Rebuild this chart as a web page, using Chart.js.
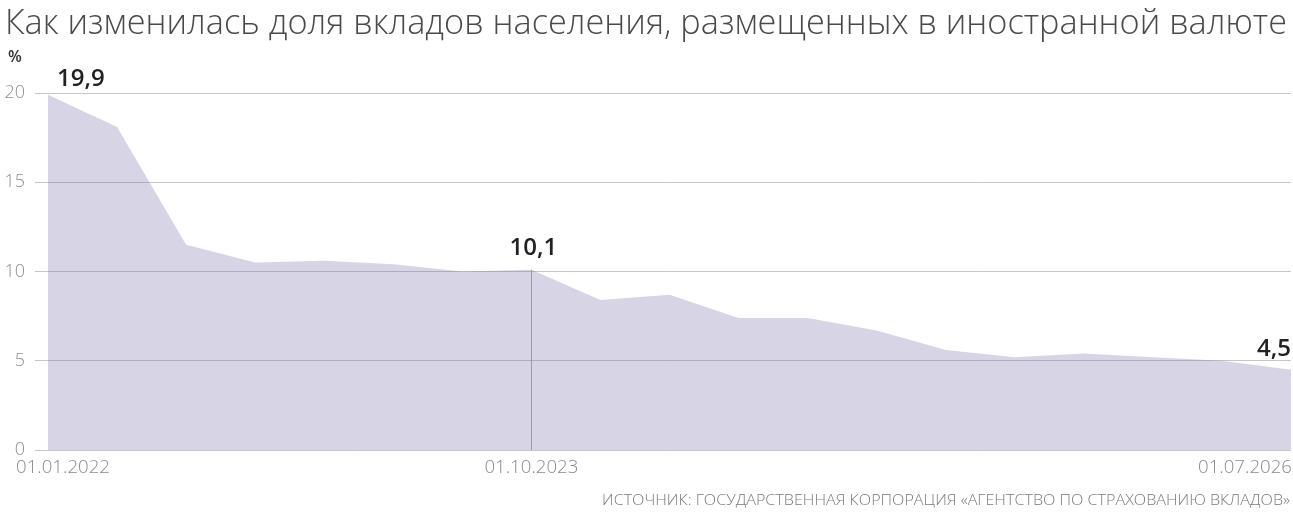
<!DOCTYPE html>
<html>
<head>
<meta charset="utf-8">
<script src="https://cdn.jsdelivr.net/npm/chart.js@4.4.1/dist/chart.umd.min.js"></script>
<style>
  html, body { margin: 0; padding: 0; background: #fff; }
  #wrap { position: relative; width: 1293px; height: 515px; }
</style>
</head>
<body>
<div id="wrap"><canvas id="depositsChart"></canvas></div>
<script>
// quarterly dates, share of foreign-currency deposits (%)
const dates = [
  '01.01.2022', '01.04.2022', '01.07.2022', '01.10.2022',
  '01.01.2023', '01.04.2023', '01.07.2023', '01.10.2023',
  '01.01.2024', '01.04.2024', '01.07.2024', '01.10.2024',
  '01.01.2025', '01.04.2025', '01.07.2025', '01.10.2025',
  '01.01.2026', '01.04.2026', '01.07.2026'
];
const shares = [19.9, 18.1, 11.5, 10.5, 10.6, 10.4, 10.0, 10.1, 8.4, 8.7, 7.4, 7.4, 6.7, 5.6, 5.2, 5.4, 5.2, 5.0, 4.5];
const xTickIdx = [0, 7, 18];
const markedIdx = [0, 7, 18];
const yTicks = [0, 5, 10, 15, 20];

const titleText = 'Как изменилась доля вкладов населения, размещенных в иностранной валюте';
const sourceText = 'ИСТОЧНИК: ГОСУДАРСТВЕННАЯ КОРПОРАЦИЯ «АГЕНТСТВО ПО СТРАХОВАНИЮ ВКЛАДОВ»';

const FONT = '"Open Sans", "Noto Sans", sans-serif';

// draw text squeezed/stretched to a given width
function fitText(ctx, text, x, y, width, align) {
  const w = ctx.measureText(text).width;
  const k = width / w;
  ctx.save();
  ctx.textAlign = 'left';
  let left = x;
  if (align === 'right') left = x - width;
  if (align === 'center') left = x - width / 2;
  ctx.translate(left, y);
  ctx.scale(k, 1);
  ctx.fillText(text, 0, 0);
  ctx.restore();
}

const fmt = v => v.toFixed(1).replace('.', ',');

Chart.register({
  id: 'decorPlugin',
  afterDraw(chart) {
    const ctx = chart.ctx;
    const xs = chart.scales.x;
    const ys = chart.scales.y;
    const meta = chart.getDatasetMeta(0);
    const bottom = chart.chartArea.bottom;

    ctx.save();
    ctx.textBaseline = 'alphabetic';

    // title
    ctx.fillStyle = '#4a4a4a';
    ctx.font = '300 34px ' + FONT;
    fitText(ctx, titleText, 5, 34, 1282, 'left');

    // unit
    ctx.fillStyle = '#333';
    ctx.font = '600 16px ' + FONT;
    ctx.fillText('%', 8, 62);

    // vertical line at the middle marked point
    const mid = meta.data[7];
    ctx.beginPath();
    ctx.moveTo(Math.round(mid.x) + 0.5, mid.y);
    ctx.lineTo(Math.round(mid.x) + 0.5, bottom);
    ctx.lineWidth = 1;
    ctx.strokeStyle = '#9c9cab';
    ctx.stroke();

    // value labels
    ctx.fillStyle = '#222';
    ctx.font = '600 24px ' + FONT;
    markedIdx.forEach((i, n) => {
      const p = meta.data[i];
      const txt = fmt(shares[i]);
      if (n === 0) {
        ctx.textAlign = 'left';
        ctx.fillText(txt, p.x + 9, p.y - 9);
      } else if (n === markedIdx.length - 1) {
        ctx.textAlign = 'right';
        ctx.fillText(txt, chart.width - 2, p.y - 14);
      } else {
        ctx.textAlign = 'center';
        ctx.fillText(txt, p.x + 2, p.y - 15);
      }
    });

    // x tick labels
    ctx.fillStyle = '#8a8a8a';
    ctx.font = '300 18px ' + FONT;
    xTickIdx.forEach((i, n) => {
      const x = xs.getPixelForValue(i);
      if (n === 0) fitText(ctx, dates[i], 16, 473, 94, 'left');
      else if (n === xTickIdx.length - 1) fitText(ctx, dates[i], chart.width - 1, 473, 94, 'right');
      else fitText(ctx, dates[i], x, 473, 94, 'center');
    });

    // source
    ctx.fillStyle = '#7a7a7a';
    ctx.font = '300 15px ' + FONT;
    fitText(ctx, sourceText, chart.width - 3, 505, 688, 'right');

    ctx.restore();
  }
});

new Chart(document.getElementById('depositsChart'), {
  type: 'line',
  data: {
    labels: dates,
    datasets: [{
      data: shares,
      fill: 'origin',
      backgroundColor: 'rgba(118, 114, 168, 0.3)',
      borderWidth: 0,
      borderColor: 'rgba(0,0,0,0)',
      pointRadius: 0,
      tension: 0
    }]
  },
  options: {
    responsive: true,
    maintainAspectRatio: false,
    animation: false,
    layout: {
      padding: { left: 0, right: 2, top: 93, bottom: 65 }
    },
    scales: {
      x: {
        type: 'category',
        display: false,
        offset: false
      },
      y: {
        min: 0,
        max: 20,
        afterFit(scale) { scale.width = 48; },
        afterBuildTicks(scale) { scale.ticks = yTicks.map(v => ({ value: v })); },
        ticks: {
          color: '#8f8f8f',
          padding: 10,
          font: { family: FONT, size: 18, weight: '300' }
        },
        grid: {
          color: '#c6c6c6',
          lineWidth: 1,
          tickLength: 13,
          drawTicks: true
        },
        border: { display: false }
      }
    },
    plugins: {
      legend: { display: false },
      tooltip: { enabled: false }
    }
  }
});
</script>
</body>
</html>
